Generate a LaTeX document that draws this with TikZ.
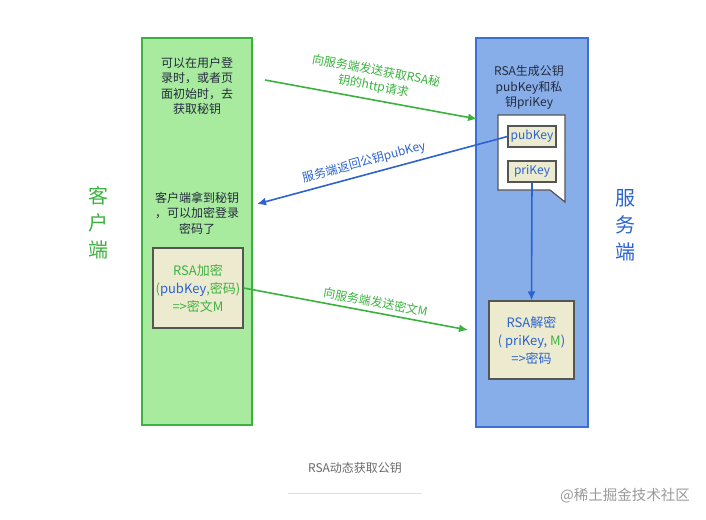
\documentclass[tikz,border=0pt]{standalone}
\usepackage{fontspec}
\setmainfont{Noto Sans CJK SC}
\usepackage{xcolor}
\usepackage{tikz}
\usetikzlibrary{arrows.meta, positioning}

\definecolor{cligreen}{HTML}{3BB23F}
\definecolor{clifill}{HTML}{A8EA9E}
\definecolor{srvblue}{HTML}{2C63CF}
\definecolor{srvfill}{HTML}{88AEEA}
\definecolor{srvedge}{HTML}{3D6FD8}
\definecolor{keyfill}{HTML}{ECEBCF}
\definecolor{keyedge}{HTML}{555555}
\definecolor{darktext}{HTML}{232B3C}
\definecolor{capgray}{HTML}{6A6A6A}

\tikzset{
    panel/.style={draw, line width=1.4pt, inner sep=0pt},
    keybox/.style={draw=keyedge, fill=keyfill, line width=1.2pt, inner sep=0pt},
    txt/.style={align=center, inner sep=0pt, font=\fontsize{12}{15.5}\selectfont},
    boxtxt/.style={align=center, inner sep=0pt, font=\fontsize{13}{18}\selectfont},
    sidelabel/.style={align=center, inner sep=0pt, font=\fontsize{20}{27}\selectfont},
    greenarrow/.style={->, draw=cligreen, line width=1.6pt},
    bluearrow/.style={->, draw=srvblue, line width=1.6pt}
}

\begin{document}
\begin{tikzpicture}[x=1pt, y=-1pt, >={Latex[length=9pt, width=8pt]}]
    \useasboundingbox (0,0) rectangle (706,519);

    % Hai cột: client và server
    \node[panel, draw=cligreen, fill=clifill, minimum width=110pt, minimum height=387pt] (client) at (197,231.5) {};
    \node[panel, draw=srvedge, fill=srvfill, minimum width=112pt, minimum height=389pt] (server) at (532,232.5) {};

    % Nhãn hai bên
    \node[sidelabel, text=cligreen] (clilabel) at (98,223) {客\\户\\端};
    \node[sidelabel, text=srvblue] (srvlabel) at (625,225) {服\\务\\端};

    % Chữ trong cột client
    \node[txt, text=darktext] (clitop) at (197,86) {可以在用户登\\录时，或者页\\面初始时，去\\获取秘钥};
    \node[txt, text=darktext] (cligot) at (197,213) {客户端拿到秘钥\\，可以加密登录\\密码了};
    \node[keybox, minimum width=90pt, minimum height=80pt] (enc) at (198,288) {};
    \node[boxtxt, text=cligreen] at (enc) {RSA加密\\(\textcolor{srvblue}{pubKey},密码)\\=>密文M};

    % Chữ trong cột server
    \node[txt, text=darktext] (srvtop) at (529,87.5) {RSA生成公钥\\pubKey和私\\钥priKey};
    \draw[keyedge, fill=white, line width=1.2pt]
        (498,115) -- (565,115) -- (565,202) -- (550,190) -- (498,190) -- cycle;
    \node[keybox, minimum width=48pt, minimum height=21pt, txt, text=srvblue] (pub) at (532,136.5) {pubKey};
    \node[keybox, minimum width=48pt, minimum height=21pt, txt, text=srvblue] (pri) at (532,171.5) {priKey};
    \node[keybox, minimum width=85pt, minimum height=78pt] (dec) at (531.5,340) {};
    \node[boxtxt, text=srvblue] at (dec) {RSA解密\\( priKey, \textcolor{cligreen}{M})\\=>密码};

    % Các mũi tên
    \coordinate (reqfrom) at (265,80);
    \coordinate (reqto) at (477,119);
    \coordinate (keyto) at (257,204);
    \coordinate (msgto) at (468,330);
    \draw[greenarrow] (reqfrom) -- node[sloped, above=6pt, txt, text=cligreen] {向服务端发送获取RSA秘\\钥的http请求} (reqto);
    \draw[bluearrow] (pub.west) -- node[pos=0.56, sloped, above=5pt, txt, text=srvblue] {服务端返回公钥pubKey} (keyto);
    \draw[greenarrow] (enc.east) -- node[pos=0.58, sloped, above=4pt, txt, text=cligreen] {向服务端发送密文M} (msgto);
    \draw[bluearrow] (pri.south) -- (dec.north);

    % Chú thích dưới hình
    \node[txt, text=capgray] (caption) at (355,468) {RSA动态获取公钥};
    \draw[black!12, line width=0.8pt] (288,493) -- (422,493);
    \node[inner sep=0pt, text=black!40, font=\fontsize{14.5}{16}\selectfont] (mark) at (625,496) {@稀土掘金技术社区};
\end{tikzpicture}
\end{document}
